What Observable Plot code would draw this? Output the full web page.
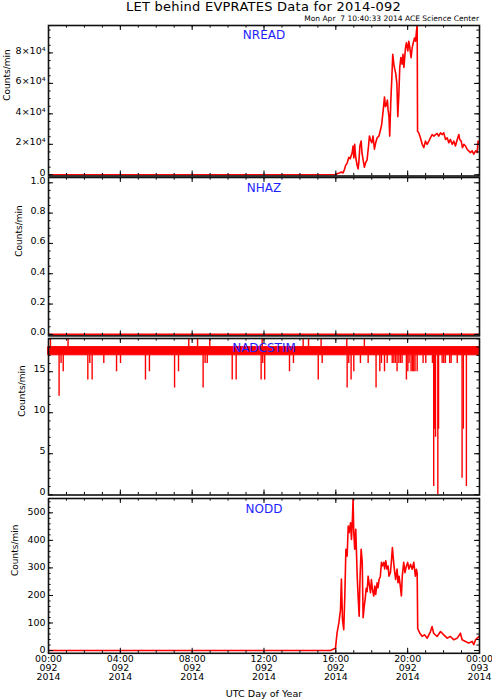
<!DOCTYPE html>
<html><head><meta charset="utf-8">
<script src="https://cdn.jsdelivr.net/npm/d3@7"></script>
<script src="https://cdn.jsdelivr.net/npm/@observablehq/plot@0.6"></script>
<style>
body{margin:0;background:#fff;}
#wrap{position:relative;width:492px;height:700px;font-family:"DejaVu Sans",sans-serif;overflow:hidden;}
.panel{position:absolute;left:0;}
#title{position:absolute;left:48px;width:431px;top:0;line-height:13px;text-align:center;font-size:13px;letter-spacing:0.25px;color:#000;white-space:pre;z-index:20;}
#sub{position:absolute;right:13px;top:15px;line-height:8px;font-size:7.5px;color:#000;white-space:pre;z-index:20;}
</style></head>
<body><div id="wrap">
<div id="title">LET behind EVPRATES Data for 2014-092</div>
<div id="sub">Mon Apr  7 10:40:33 2014 ACE Science Center</div>
</div>
<script>
// ---- tick labels ----
const hourTicks = [0, 4, 8, 12, 16, 20, 24];
const timeLabels = ["00:00", "04:00", "08:00", "12:00", "16:00", "20:00", "00:00"];
const doyLabels = ["092", "092", "092", "092", "092", "092", "093"];
const yearLabels = ["2014", "2014", "2014", "2014", "2014", "2014", "2014"];

const nreadTicks = [0, 20000, 40000, 60000, 80000];
const nreadLabels = ["0", "2×10⁴", "4×10⁴", "6×10⁴", "8×10⁴"];
const nhazTicks = [0, 0.2, 0.4, 0.6, 0.8, 1.0];
const nhazLabels = ["0.0", "0.2", "0.4", "0.6", "0.8", "1.0"];
const nadcTicks = [0, 5, 10, 15];
const nadcLabels = ["0", "5", "10", "15"];
const noddTicks = [0, 100, 200, 300, 400, 500];
const noddLabels = ["0", "100", "200", "300", "400", "500"];

// ---- NREAD ----
const nreadHour = [0, 15.95, 16.10, 16.20, 16.30, 16.40, 16.48, 16.54, 16.63, 16.72, 16.80, 16.91, 16.96, 17.00, 17.05, 17.10, 17.19, 17.24, 17.28, 17.34, 17.41, 17.46, 17.52, 17.59, 17.66, 17.74, 17.82, 17.87, 17.93, 18.00, 18.07, 18.15, 18.22, 18.30, 18.40, 18.49, 18.55, 18.64, 18.71, 18.76, 18.82, 18.87, 18.91, 18.96, 19.00, 19.06, 19.12, 19.17, 19.23, 19.28, 19.34, 19.40, 19.45, 19.51, 19.56, 19.62, 19.69, 19.74, 19.79, 19.88, 19.93, 20.01, 20.06, 20.12, 20.19, 20.25, 20.31, 20.38, 20.44, 20.49, 20.53, 20.55, 20.62, 20.71, 20.81, 20.90, 20.99, 21.08, 21.18, 21.27, 21.36, 21.46, 21.55, 21.64, 21.73, 21.83, 21.92, 22.01, 22.11, 22.20, 22.29, 22.38, 22.48, 22.57, 22.66, 22.76, 22.85, 22.90, 22.98, 23.05, 23.13, 23.22, 23.31, 23.40, 23.50, 23.59, 23.68, 23.78, 23.87, 23.92, 23.98, 24.0];
const nreadValue = [0, 0, 800, 1200, 1800, 1200, 3500, 6000, 7700, 11400, 10500, 14600, 18900, 11000, 20000, 12000, 6000, 3900, 8000, 18900, 22200, 14000, 9800, 5000, 8000, 9800, 18900, 25400, 23000, 21000, 25400, 16800, 21000, 24300, 25400, 29700, 32800, 42600, 51100, 44700, 45800, 49000, 42600, 38300, 25400, 47900, 64000, 79100, 72600, 69400, 66200, 59700, 38200, 53200, 70500, 77000, 72600, 79100, 70500, 83400, 86600, 81300, 87700, 83400, 76900, 83400, 86600, 89800, 87700, 94200, 98500, 28600, 27500, 24300, 20000, 17800, 22100, 20000, 22100, 24300, 26400, 25400, 26400, 27100, 25400, 27500, 26400, 27500, 23200, 24300, 21000, 23200, 20000, 22100, 18900, 23200, 26400, 23200, 22100, 17800, 20000, 18900, 16800, 15700, 14600, 15700, 13500, 15700, 14600, 22100, 21000, 21500];

// ---- NHAZ ----
const nhazHour = [0, 24];
const nhazValue = [0, 0];

// ---- NADCSTIM: band alternating 17/18 plus spikes ----
const nadcBandHour = [0, 24];
const nadcBandLow = [17, 17];
const nadcBandHigh = [18, 18];
const nadcSpikeHour = [0.11, 0.59, 0.70, 0.82, 1.09, 2.19, 2.30, 2.43, 3.08, 3.79, 4.01, 5.40, 5.62, 7.02, 7.24, 7.81, 8.30, 8.61, 8.72, 8.84, 8.98, 10.23, 10.45, 11.84, 11.90, 11.93, 12.04, 13.42, 13.64, 14.18, 14.48, 15.02, 15.18, 15.24, 16.61, 16.63, 16.72, 16.85, 17.00, 17.37, 17.59, 17.80, 18.24, 18.45, 18.54, 18.71, 18.86, 19.14, 19.23, 19.32, 19.41, 19.51, 19.60, 19.69, 19.93, 20.01, 20.08, 20.19, 20.27, 20.34, 20.41, 20.53, 20.86, 21.01, 21.38, 21.45, 21.50, 21.55, 21.68, 21.72, 21.92, 22.01, 22.10, 22.34, 22.42, 22.76, 23.03, 23.10, 23.27];
const nadcSpikeValue = [19, 12, 16, 15, 19, 14, 16, 14, 16, 15, 16, 14, 15, 13, 15, 19, 19, 13, 16, 16, 19, 14, 14, 14, 19, 16, 14, 15, 16, 19, 19, 14, 19, 16, 19, 13, 16, 14, 15, 16, 19, 16, 13, 15, 16, 15, 16, 16, 16, 16, 15, 16, 16, 16, 14, 15, 16, 15, 15, 15, 15, 15, 16, 16, 16, 1, 8, 7, 0, 8, 16, 16, 16, 16, 16, 16, 2, 8, 1];

// ---- NODD ----
const noddHour = [0, 15.70, 15.98, 16.07, 16.17, 16.26, 16.31, 16.37, 16.44, 16.50, 16.56, 16.63, 16.69, 16.74, 16.82, 16.87, 16.93, 16.96, 17.00, 17.05, 17.11, 17.19, 17.24, 17.30, 17.35, 17.41, 17.47, 17.52, 17.58, 17.63, 17.69, 17.74, 17.80, 17.85, 17.93, 17.98, 18.04, 18.11, 18.17, 18.22, 18.30, 18.35, 18.41, 18.48, 18.54, 18.59, 18.67, 18.72, 18.78, 18.85, 18.91, 18.96, 19.04, 19.09, 19.15, 19.22, 19.28, 19.33, 19.41, 19.46, 19.52, 19.59, 19.65, 19.70, 19.78, 19.85, 19.93, 20.00, 20.07, 20.16, 20.25, 20.34, 20.43, 20.49, 20.53, 20.56, 20.67, 20.80, 20.94, 21.09, 21.27, 21.36, 21.45, 21.64, 21.83, 22.01, 22.20, 22.38, 22.57, 22.76, 22.94, 23.03, 23.22, 23.40, 23.59, 23.68, 23.78, 23.87, 24.0];
const noddValue = [0, 0, 8, 65, 101, 148, 260, 113, 76, 198, 368, 343, 452, 428, 464, 403, 488, 550, 428, 368, 440, 270, 198, 125, 270, 368, 320, 119, 160, 185, 226, 214, 270, 246, 210, 258, 222, 198, 234, 204, 246, 228, 258, 270, 320, 307, 320, 296, 326, 296, 307, 270, 283, 320, 374, 320, 283, 258, 296, 246, 270, 234, 198, 270, 320, 283, 307, 320, 296, 313, 295, 320, 270, 295, 280, 80, 64, 52, 57, 45, 69, 87, 62, 51, 69, 57, 45, 51, 39, 45, 63, 39, 33, 27, 33, 21, 39, 45, 52];

// ---- layout ----
const W = 492, ML = 48, MR = 13, IW = W - ML - MR;
const RED = "#ff0000";

function tickMarks(H, yMaj, yMin) {
  const LM = 5, LS = 2.6;
  const xMin = d3.range(0, 25, 1);
  const k = {stroke: "#000", strokeWidth: 1};
  return [
    Plot.tickY(yMin, {y: d => d, insetRight: IW - LS, ...k}),
    Plot.tickY(yMin, {y: d => d, insetLeft: IW - LS, ...k}),
    Plot.tickY(yMaj, {y: d => d, insetRight: IW - LM, ...k}),
    Plot.tickY(yMaj, {y: d => d, insetLeft: IW - LM, ...k}),
    Plot.tickX(xMin, {x: d => d, insetBottom: H - LS, ...k}),
    Plot.tickX(xMin, {x: d => d, insetTop: H - LS, ...k}),
    Plot.tickX(hourTicks, {x: d => d, insetBottom: H - LM, ...k}),
    Plot.tickX(hourTicks, {x: d => d, insetTop: H - LM, ...k})
  ];
}

function panel({top, H, domain, majors, labels, minors, labelDy, name, nameDy, ylabX, data, bottom, z}) {
  const mt = 3, mb = bottom ? 50 : 3;
  const marks = [
    ...data,
    ...tickMarks(H, majors, minors),
    Plot.frame({stroke: "#111", strokeWidth: 1.6}),
    Plot.axisY(majors, {anchor: "left", tickSize: 0, tickPadding: 3, fontSize: 9.5, dy: labelDy,
      tickFormat: d => labels[majors.indexOf(d)]}),
    Plot.text([name], {frameAnchor: "top", dy: nameDy, lineAnchor: "middle", fill: "#1f1fff", fontSize: 12}),
    Plot.text(["Counts/min"], {frameAnchor: "left", dx: ylabX - ML, rotate: -90, fontSize: 9, fill: "#000"})
  ];
  if (bottom) {
    marks.push(Plot.axisX(hourTicks, {anchor: "bottom", tickSize: 0, tickPadding: 2, fontSize: 9.4, lineHeight: 0.97,
      tickFormat: d => { const i = hourTicks.indexOf(d); return timeLabels[i] + "\n" + doyLabels[i] + "\n" + yearLabels[i]; }}));
    marks.push(Plot.text(["UTC Day of Year"], {frameAnchor: "bottom", dy: 41, lineAnchor: "middle", fontSize: 9.6, fill: "#000"}));
  }
  const svg = Plot.plot({
    width: W, height: H + mt + mb,
    marginLeft: ML, marginRight: MR, marginTop: mt, marginBottom: mb,
    x: {domain: [0, 24], axis: bottom ? undefined : null},
    y: {domain},
    style: {fontFamily: "DejaVu Sans, sans-serif", fontSize: "9.5px", overflow: "visible", background: "transparent"},
    marks
  });
  svg.classList.add("panel");
  svg.style.position = "absolute";
  svg.style.top = (top - mt) + "px";
  svg.style.left = "0px";
  svg.style.background = "none";
  svg.style.zIndex = z;
  document.getElementById("wrap").appendChild(svg);
}

const lineOpts = {stroke: RED, strokeWidth: 1.6, clip: true};

panel({top: 25, H: 150.5, domain: [-800, 98000], majors: nreadTicks, labels: nreadLabels, labelDy: -2,
  minors: d3.range(0, 98000, 5000), name: "NREAD", nameDy: 9.5, ylabX: 7, z: 4,
  data: [Plot.line(nreadValue, {x: nreadHour, y: nreadValue, ...lineOpts})]});

panel({top: 177.3, H: 158.4, domain: [-0.01, 1.035], majors: nhazTicks, labels: nhazLabels, labelDy: -2,
  minors: d3.range(0, 1.001, 0.05), name: "NHAZ", nameDy: 10.5, ylabX: 18.5, z: 3,
  data: [Plot.line(nhazValue, {x: nhazHour, y: nhazValue, stroke: RED, strokeWidth: 1.6})]});

const spikeBase = nadcSpikeValue.map(v => v > 18 ? 18 : 17);
panel({top: 338.3, H: 156.5, domain: [-0.03, 19.05], majors: nadcTicks, labels: nadcLabels, labelDy: -2.5,
  minors: d3.range(0, 20, 1), name: "NADCSTIM", nameDy: 10, ylabX: 22, z: 2,
  data: [
    Plot.areaY(nadcBandLow, {x: nadcBandHour, y1: nadcBandLow, y2: nadcBandHigh, fill: RED, stroke: RED, strokeWidth: 1}),
    Plot.ruleX(nadcSpikeValue, {x: nadcSpikeHour, y1: spikeBase, y2: nadcSpikeValue, stroke: RED, strokeWidth: 1.4, clip: true})
  ]});

panel({top: 497.5, H: 154.8, domain: [-10, 552], majors: noddTicks, labels: noddLabels, labelDy: -0.5,
  minors: d3.range(0, 552, 20), name: "NODD", nameDy: 10.5, ylabX: 15, z: 1,
  data: [Plot.line(noddValue, {x: noddHour, y: noddValue, ...lineOpts})], bottom: true});
</script>
</body></html>
